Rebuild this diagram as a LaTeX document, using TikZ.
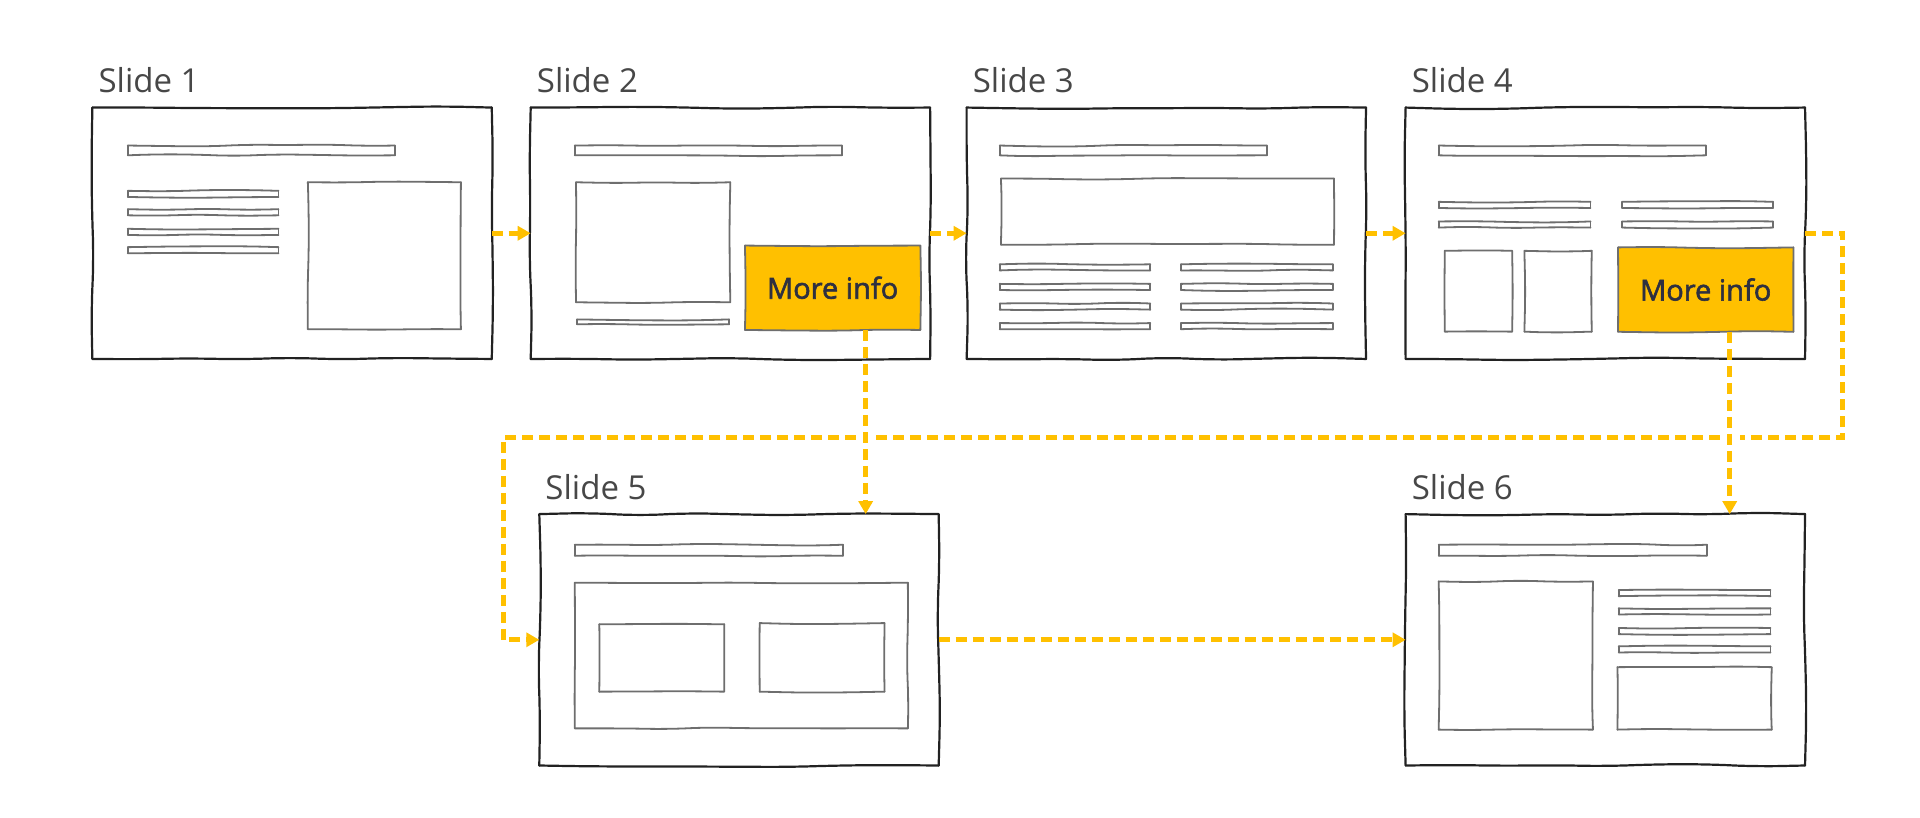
\documentclass[tikz,border=0pt]{standalone}
\usepackage{fontspec}
\setmainfont{Open Sans}
\newfontfamily\infofont{Open Sans}[FakeBold=2]
\usetikzlibrary{arrows.meta,decorations.pathmorphing}

\definecolor{flowyellow}{HTML}{FFC000}
\definecolor{frameink}{HTML}{222222}
\definecolor{innerink}{HTML}{6E6E6E}
\definecolor{titleink}{HTML}{474747}
\definecolor{infoink}{HTML}{2E3040}

\tikzset{
  sketchy/.style={decorate, decoration={random steps, segment length=50pt, amplitude=1.6pt},
    rounded corners=24pt, line cap=round},
  frame/.style={sketchy, draw=frameink, line width=2.2pt},
  inner/.style={sketchy, draw=innerink, line width=1.8pt,
    decoration={random steps, segment length=40pt, amplitude=1.1pt}, rounded corners=19pt},
  slide/.style={minimum width=399pt, minimum height=251pt, inner sep=0pt, fill=white},
  slidetitle/.style={anchor=base west, inner sep=0pt, text=titleink,
    font=\fontsize{33}{36}\selectfont},
  moreinfo/.style={minimum width=175pt, minimum height=84pt, inner sep=0pt,
    fill=flowyellow, text=infoink, font=\infofont\fontsize{29}{32}\selectfont},
  flow/.style={draw=flowyellow, line width=5pt, dash pattern=on 11pt off 6pt,
    -{Triangle[length=13pt,width=14pt]}}
}

% hand drawn border of a node
\newcommand\sketchnode[2][frame]{%
  \draw[#1] (#2.north west) -- (#2.north east);
  \draw[#1] (#2.north east) -- (#2.south east);
  \draw[#1] (#2.south east) -- (#2.south west);
  \draw[#1] (#2.south west) -- (#2.north west);}
% hand drawn box from x1 y1 to x2 y2
\newcommand\sketchbox[4]{%
  \draw[inner] (#1,#2) -- (#3,#2);
  \draw[inner] (#3,#2) -- (#3,#4);
  \draw[inner] (#3,#4) -- (#1,#4);
  \draw[inner] (#1,#4) -- (#1,#2);}

\begin{document}
\begin{tikzpicture}[x=1.22449pt, y=-1.22449pt]
\pgfmathsetseed{11}
\useasboundingbox (0,0) rectangle (1568,668);

% slides
\node[slide] (s1) at (238.5,190.5) {};
\node[slide] (s2) at (596.5,190.5) {};
\node[slide] (s3) at (952.5,190.5) {};
\node[slide] (s4) at (1311,190.5) {};
\node[slide] (s5) at (603.5,522.5) {};
\node[slide] (s6) at (1311,522.5) {};
\foreach \s in {s1,s2,s3,s4,s5,s6} {\sketchnode{\s}}
\foreach \n in {1,...,6}
  \node[slidetitle] (t\n) at ([xshift=6pt,yshift=15pt]s\n.north west) {Slide \n};

% slide 1
\begin{scope}[shift={(s1.north west)}]
  \sketchbox{29}{31}{247}{39}
  \foreach \y in {68,83,99,114} {\sketchbox{29}{\y}{152}{\y+5}}
  \sketchbox{176}{61}{301}{181}
\end{scope}

% slide 2
\begin{scope}[shift={(s2.north west)}]
  \sketchbox{36}{31}{254}{39}
  \sketchbox{37}{61}{163}{159}
  \sketchbox{38}{173}{162}{177}
\end{scope}
\node[moreinfo] (m2) at (680,235) {More info};
\sketchnode[inner]{m2}

% slide 3
\begin{scope}[shift={(s3.north west)}]
  \sketchbox{27}{31}{245}{39}
  \sketchbox{28}{58}{300}{112}
  \foreach \y in {128,144,160,176} {
    \sketchbox{27}{\y}{150}{\y+5}
    \sketchbox{175}{\y}{299}{\y+5}}
\end{scope}

% slide 4
\begin{scope}[shift={(s4.north west)}]
  \sketchbox{27}{31}{245}{39}
  \foreach \y in {77,93} {
    \sketchbox{27}{\y}{151}{\y+5}
    \sketchbox{177}{\y}{300}{\y+5}}
  \sketchbox{32}{117}{87}{183}
  \sketchbox{97}{117}{152}{183}
\end{scope}
\node[moreinfo] (m4) at (1393,236.5) {More info};
\sketchnode[inner]{m4}

% slide 5
\begin{scope}[shift={(s5.north west)}]
  \sketchbox{29}{25}{248}{34}
  \sketchbox{29}{56}{301}{175}
  \sketchbox{49}{90}{151}{145}
  \sketchbox{180}{89}{282}{145}
\end{scope}

% slide 6
\begin{scope}[shift={(s6.north west)}]
  \sketchbox{27}{25}{246}{34}
  \sketchbox{27}{55}{153}{176}
  \foreach \y in {62,77,93,108} {\sketchbox{174}{\y}{298}{\y+5}}
  \sketchbox{173}{125}{299}{176}
\end{scope}

% flow
\draw[flow] (s1.east) -- (s2.west);
\draw[flow] (s2.east) -- (s3.west);
\draw[flow] (s3.east) -- (s4.west);
\draw[flow] (s5.east) -- (s6.west);
\coordinate (o2) at ([xshift=33pt]m2.south);
\coordinate (o4) at ([xshift=24pt]m4.south);
\draw[flow] (o2) -- (o2 |- s5.north);
\draw[flow] (o4) -- (o4 |- s6.north);
\coordinate (r) at (1505,357);
\coordinate (l) at (411,357);
\coordinate (x2) at (o2 |- r);
\coordinate (x4) at (o4 |- r);
\draw[flow] (s4.east) -| (r) -- ([xshift=10pt]x4) ([xshift=-10pt]x4)
  -- ([xshift=10pt]x2) ([xshift=-10pt]x2) -- (l) |- (s5.west);
\end{tikzpicture}
\end{document}
